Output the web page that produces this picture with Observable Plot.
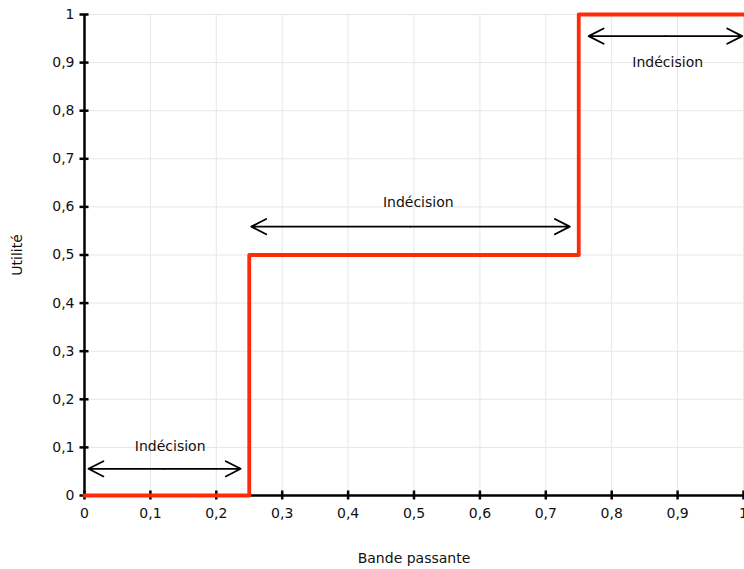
<!DOCTYPE html>
<html>
<head>
<meta charset="utf-8">
<script src="https://cdn.jsdelivr.net/npm/d3@7"></script>
<script src="https://cdn.jsdelivr.net/npm/@observablehq/plot@0.6"></script>
<style>
  body { margin: 0; background: #fff; }
  #chart svg { display: block; }
</style>
</head>
<body>
<div id="chart"></div>
<script>
// Step utility function
const stepX = [0, 0.25, 0.75, 1];
const stepY = [0, 0.5, 1, 1];

// Double-headed "Indécision" arrows
const arrowX1 = [0.006, 0.253, 0.765];
const arrowX2 = [0.237, 0.7365, 0.998];
const arrowY = [0.0555, 0.559, 0.955];

// Labels
const labelText = ["Indécision", "Indécision", "Indécision"];
const labelX = [0.130, 0.5065, 0.885];
const labelY = [0.1025, 0.609, 0.901];

// Ticks
const tickValues = [0, 0.1, 0.2, 0.3, 0.4, 0.5, 0.6, 0.7, 0.8, 0.9, 1];
const tickLabels = ["0", "0,1", "0,2", "0,3", "0,4", "0,5", "0,6", "0,7", "0,8", "0,9", "1"];

const xLabel = "Bande passante";
const yLabel = "Utilité";

const stepData = stepX.map((x, i) => ({x, y: stepY[i]}));
const arrows = arrowX1.map((x1, i) => ({x1, x2: arrowX2[i], y: arrowY[i], mid: (x1 + arrowX2[i]) / 2}));
const labels = labelText.map((t, i) => ({t, x: labelX[i], y: labelY[i]}));
const fmt = d => tickLabels[tickValues.findIndex(v => Math.abs(v - d) < 1e-9)];

const red = "#ff2a0a";
const fs = 14;
const arrowOpts = {headLength: 14, headAngle: 54, strokeWidth: 1.8, stroke: "#000"};

const chart = Plot.plot({
  width: 744,
  height: 569,
  marginLeft: 84,
  marginRight: 1,
  marginTop: 14,
  marginBottom: 74,
  style: {fontFamily: "DejaVu Sans", fontSize: fs + "px", color: "#111", background: "#fff"},
  x: {domain: [0, 1]},
  y: {domain: [0, 1]},
  marks: [
    Plot.gridX(tickValues, {stroke: "#e6e6e6", strokeOpacity: 1, strokeWidth: 1}),
    Plot.gridY(tickValues, {stroke: "#e6e6e6", strokeOpacity: 1, strokeWidth: 1}),
    Plot.ruleX([0], {stroke: "#000", strokeWidth: 2.5}),
    Plot.ruleY([0], {stroke: "#000", strokeWidth: 2.5}),
    // tick marks crossing the axes
    Plot.axisX({ticks: tickValues, tickSize: 9, dy: -4.5, text: null, strokeWidth: 2.5, stroke: "#000", label: null}),
    Plot.axisY({ticks: tickValues, tickSize: 9, dx: 4.5, text: null, strokeWidth: 2.5, stroke: "#000", label: null}),
    // tick labels + axis titles
    Plot.axisX({ticks: tickValues, tickSize: 0, tickPadding: 13, tickFormat: fmt, fontSize: fs,
      label: xLabel, labelAnchor: "center", labelArrow: "none", labelOffset: 67}),
    Plot.axisY({ticks: tickValues, tickSize: 0, tickPadding: 10, tickFormat: fmt, fontSize: fs,
      label: yLabel, labelAnchor: "center", labelArrow: "none", labelOffset: 72}),
    // step line
    Plot.line(stepData, {x: "x", y: "y", curve: "step-after", stroke: red, strokeWidth: 3.8}),
    // arrows (two halves each)
    Plot.arrow(arrows, {x1: "mid", x2: "x1", y1: "y", y2: "y", ...arrowOpts}),
    Plot.arrow(arrows, {x1: "mid", x2: "x2", y1: "y", y2: "y", ...arrowOpts}),
    Plot.text(labels, {x: "x", y: "y", text: "t", fontSize: fs, fill: "#111"})
  ]
});
document.getElementById("chart").appendChild(chart);
</script>
</body>
</html>
